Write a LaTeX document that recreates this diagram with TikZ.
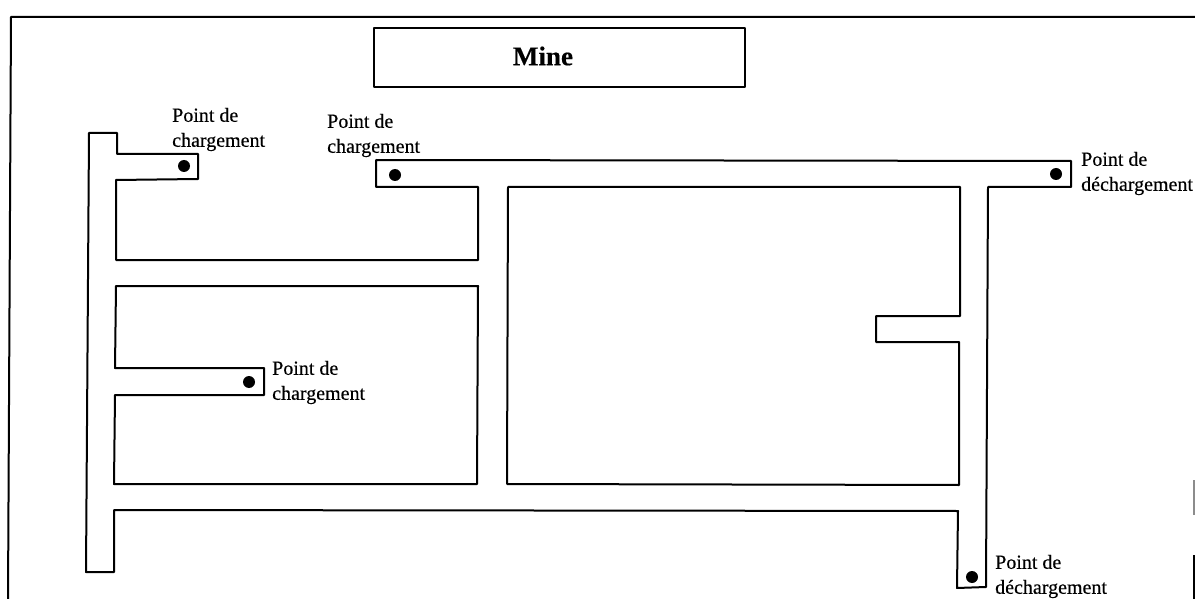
\documentclass[tikz,border=0pt]{standalone}
\usepackage{fontspec}
\setmainfont{Liberation Serif}[FakeBold=0.35]
\tikzset{
  wall/.style={draw=black,line width=2pt,line join=round},
  spot/.style={fill=black,draw=none,circle,minimum size=12pt,inner sep=0pt},
  lab/.style={anchor=west,inner sep=0pt,font=\fontsize{20}{25}\selectfont,align=left,text=black},
  title/.style={font=\bfseries\fontsize{27}{30}\selectfont,text=black}
}
\begin{document}
\begin{tikzpicture}[x=1pt,y=-1pt]
\useasboundingbox (0,0) rectangle (1195,599);
\fill[white] (0,0) rectangle (1195,599);
% outer frame
\draw[wall] (8,599) -- (11,17) -- (1195,17);
% remains of the right edge
\draw[line width=2pt,black!45] (1194,480) -- (1194,515);
\draw[line width=2pt,black] (1194,555) -- (1194,599);
% title
\draw[wall] (374,28) rectangle (745,87);
\node[title] (mine) at (543,56) {Mine};
% main corridor outline
\draw[wall] (89,133) -- (117,133) -- (117,154) -- (198,154) -- (198,179) -- (116,180)
  -- (116,260) -- (478,260) -- (478,187) -- (376,187) -- (376,160) -- (1071,161)
  -- (1071,187) -- (988,187) -- (986,587) -- (957,588) -- (958,511) -- (114,510)
  -- (114,572) -- (86,572) -- cycle;
% lower left block
\draw[wall] (116,286) -- (478,286) -- (477,484) -- (114,484) -- (115,395) -- (264,395)
  -- (264,368) -- (115,368) -- cycle;
% central block
\draw[wall] (508,187) -- (960,187) -- (960,316) -- (876,316) -- (876,342) -- (959,342)
  -- (959,485) -- (507,484) -- cycle;
% points
\node[spot] (p1) at (184,166) {};
\node[spot] (p2) at (395,175) {};
\node[spot] (p3) at (1056,174) {};
\node[spot] (p4) at (249,382) {};
\node[spot] (p5) at (972,577) {};
% labels
\node[lab] (l1) at (172,129.5) {Point de\\chargement};
\node[lab] (l2) at (327,135.5) {Point de\\chargement};
\node[lab] (l3) at (1081,173.5) {Point de\\déchargement};
\node[lab] (l4) at (272,382.5) {Point de\\chargement};
\node[lab] (l5) at (995,576.5) {Point de\\déchargement};
\end{tikzpicture}
\end{document}
